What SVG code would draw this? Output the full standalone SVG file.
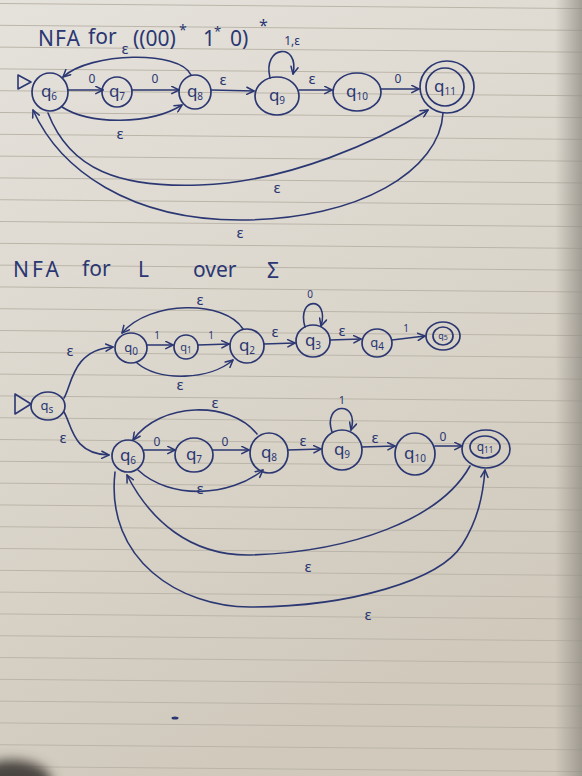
<svg xmlns="http://www.w3.org/2000/svg" width="582" height="776" viewBox="0 0 582 776">
<defs>
<style>
.ink{fill:none;stroke:#2b3772;stroke-width:1.6;stroke-linecap:round;stroke-linejoin:round}
.node{fill:none;stroke:#2b3772;stroke-width:1.7}
.start{fill:none;stroke:#2b3772;stroke-width:1.6;stroke-linejoin:round}
.t{font-family:"Noto Sans","DejaVu Sans",sans-serif;fill:#2b3772}
.c{text-anchor:middle}
.q{font-size:17px}
.qs{font-size:13px}
.sub{font-size:10px}
.e{font-size:15px}
.d{font-size:12px}
.title{font-size:21px}
</style>
<linearGradient id="paper" x1="0" y1="0" x2="0.35" y2="1">
<stop offset="0" stop-color="#e5e2dc"/>
<stop offset="0.5" stop-color="#dcd7cd"/>
<stop offset="1" stop-color="#d0c9bc"/>
</linearGradient>
<linearGradient id="edge" x1="0" y1="0" x2="1" y2="0">
<stop offset="0" stop-color="#8f8a82" stop-opacity="0"/>
<stop offset="1" stop-color="#8f8a82" stop-opacity="0.75"/>
</linearGradient>
<pattern id="ruled" width="582" height="21.8" patternUnits="userSpaceOnUse" patternTransform="translate(0,3) rotate(0.5)">
<line x1="0" y1="0.5" x2="600" y2="0.5" stroke="#bbb5a9" stroke-width="1"/>
</pattern>
<filter id="blur" x="-50%" y="-50%" width="200%" height="200%"><feGaussianBlur stdDeviation="6"/></filter>
<marker id="ah" viewBox="0 0 10 10" refX="9" refY="5" markerWidth="9" markerHeight="9" markerUnits="userSpaceOnUse" orient="auto">
<path d="M1,1 L9,5 L1,9" fill="none" stroke="#2b3772" stroke-width="1.7" stroke-linecap="round" stroke-linejoin="round"/>
</marker>
</defs>

<g id="paper-bg">
<rect width="582" height="776" fill="url(#paper)"/>
<rect width="582" height="776" fill="url(#ruled)"/>
<rect x="555" y="0" width="27" height="776" fill="url(#edge)"/>
<ellipse cx="12" cy="782" rx="40" ry="22" fill="#4a453f" filter="url(#blur)"/>
<ellipse cx="175" cy="718" rx="3.5" ry="1.5" fill="#2b3772"/>
</g>

<g id="title-top">
<text class="t title" x="38" y="46" letter-spacing="1">NFA</text>
<text class="t title" x="88" y="44">for</text>
<text class="t title" x="133" y="46">((00)</text>
<text class="t" x="179" y="35" font-size="14">*</text>
<text class="t title" x="203" y="46">1</text>
<text class="t" x="214" y="36" font-size="13">*</text>
<text class="t title" x="230" y="46">0)</text>
<text class="t" x="259" y="31" font-size="16">*</text>
</g>

<g id="top-connectors">
<path class="ink" d="M68,90 L103,90" marker-end="url(#ah)"/>
<path class="ink" d="M132,90 L179,90" marker-end="url(#ah)"/>
<path class="ink" d="M211,90 L254,91" marker-end="url(#ah)"/>
<path class="ink" d="M299,90 L332,90" marker-end="url(#ah)"/>
<path class="ink" d="M381,89 L419,89" marker-end="url(#ah)"/>
<path class="ink" d="M191,75 C180,50 90,52 63,77" marker-end="url(#ah)"/>
<path class="ink" d="M62,107 C90,125 150,125 182,105" marker-end="url(#ah)"/>
<path class="ink" d="M270,78 C262,45 300,42 293,74" marker-end="url(#ah)"/>
<path class="ink" d="M48,113 C70,170 120,188 200,185 C290,182 380,140 428,110" marker-end="url(#ah)"/>
<path class="ink" d="M443,113 C440,170 360,220 240,220 C130,220 60,170 33,110" marker-end="url(#ah)"/>
<text class="t c d" x="92" y="83">0</text>
<text class="t c d" x="155" y="83">0</text>
<text class="t c e" x="223" y="85">ε</text>
<text class="t c e" x="312" y="84">ε</text>
<text class="t c d" x="398" y="83">0</text>
<text class="t c d" x="292" y="45">1,ε</text>
<text class="t c e" x="125" y="54">ε</text>
<text class="t c e" x="120" y="139">ε</text>
<text class="t c e" x="277" y="193">ε</text>
<text class="t c e" x="240" y="238">ε</text>
</g>

<g id="top-q6"><polygon class="start" points="18,75 18,89 31,82"/><ellipse class="node" cx="50" cy="92" rx="18" ry="19"/><text class="t c q" x="49" y="97">q<tspan class="sub" dy="3">6</tspan></text></g>
<g id="top-q7"><ellipse class="node" cx="117" cy="92" rx="15" ry="15"/><text class="t c q" x="117" y="97">q<tspan class="sub" dy="3">7</tspan></text></g>
<g id="top-q8"><ellipse class="node" cx="195" cy="92" rx="16" ry="17"/><text class="t c q" x="195" y="97">q<tspan class="sub" dy="3">8</tspan></text></g>
<g id="top-q9"><ellipse class="node" cx="277" cy="96" rx="22" ry="19"/><text class="t c q" x="277" y="101">q<tspan class="sub" dy="3">9</tspan></text></g>
<g id="top-q10"><ellipse class="node" cx="357" cy="92" rx="24" ry="19"/><text class="t c q" x="357" y="97">q<tspan class="sub" dy="3">10</tspan></text></g>
<g id="top-q11"><ellipse class="node" cx="447" cy="87" rx="27" ry="26"/><ellipse class="node" cx="445" cy="87" rx="19" ry="19"/><text class="t c q" x="445" y="92">q<tspan class="sub" dy="3">11</tspan></text></g>

<g id="title-bottom">
<text class="t title" x="13" y="277" letter-spacing="3">NFA</text>
<text class="t title" x="82" y="276">for</text>
<text class="t title" x="138" y="277">L</text>
<text class="t title" x="193" y="277">over</text>
<text class="t title" x="267" y="278">Σ</text>
</g>

<g id="bottom-connectors">
<path class="ink" d="M64,398 C72,385 72,350 113,347" marker-end="url(#ah)"/>
<path class="ink" d="M64,412 C72,425 72,454 109,455" marker-end="url(#ah)"/>
<path class="ink" d="M147,345 L173,345" marker-end="url(#ah)"/>
<path class="ink" d="M198,345 L229,344" marker-end="url(#ah)"/>
<path class="ink" d="M243,329 C225,300 150,300 122,333" marker-end="url(#ah)"/>
<path class="ink" d="M137,363 C160,382 210,380 233,360" marker-end="url(#ah)"/>
<path class="ink" d="M264,344 L295,343" marker-end="url(#ah)"/>
<path class="ink" d="M305,327 C296,296 330,296 321,326" marker-end="url(#ah)"/>
<path class="ink" d="M330,340 L361,339" marker-end="url(#ah)"/>
<path class="ink" d="M392,340 L425,336" marker-end="url(#ah)"/>
<path class="ink" d="M144,450 L175,450" marker-end="url(#ah)"/>
<path class="ink" d="M213,450 L249,450" marker-end="url(#ah)"/>
<path class="ink" d="M288,450 L321,449" marker-end="url(#ah)"/>
<path class="ink" d="M257,434 C230,400 160,402 133,440" marker-end="url(#ah)"/>
<path class="ink" d="M138,470 C170,500 230,497 263,470" marker-end="url(#ah)"/>
<path class="ink" d="M332,432 C322,402 360,400 351,430" marker-end="url(#ah)"/>
<path class="ink" d="M362,447 L395,446" marker-end="url(#ah)"/>
<path class="ink" d="M435,446 L462,446" marker-end="url(#ah)"/>
<path class="ink" d="M470,466 C440,520 350,552 250,555 C190,556 150,520 127,475" marker-end="url(#ah)"/>
<path class="ink" d="M115,472 C105,560 180,607 250,607 C350,607 440,580 462,545 C478,520 483,495 485,470" marker-end="url(#ah)"/>
<text class="t c e" x="70" y="356">ε</text>
<text class="t c e" x="63" y="443">ε</text>
<text class="t c" x="157" y="339" font-size="10">1</text>
<text class="t c" x="211" y="339" font-size="10">1</text>
<text class="t c e" x="200" y="305">ε</text>
<text class="t c e" x="180" y="390">ε</text>
<text class="t c e" x="275" y="337">ε</text>
<text class="t c" x="310" y="298" font-size="10">0</text>
<text class="t c e" x="342" y="336">ε</text>
<text class="t c" x="406" y="332" font-size="10">1</text>
<text class="t c d" x="157" y="446">0</text>
<text class="t c d" x="225" y="446">0</text>
<text class="t c e" x="303" y="446">ε</text>
<text class="t c e" x="215" y="408">ε</text>
<text class="t c e" x="200" y="494">ε</text>
<text class="t c" x="342" y="404" font-size="11">1</text>
<text class="t c e" x="375" y="443">ε</text>
<text class="t c d" x="443" y="441">0</text>
<text class="t c e" x="308" y="572">ε</text>
<text class="t c e" x="368" y="620">ε</text>
</g>

<g id="bot-qs"><polygon class="start" points="15,394 15,414 31,404"/><ellipse class="node" cx="48" cy="406" rx="17" ry="14"/><text class="t c qs" x="47" y="410">q<tspan class="sub" dy="3">s</tspan></text></g>
<g id="bot-q0"><ellipse class="node" cx="131" cy="348" rx="16" ry="15"/><text class="t c qs" x="131" y="352">q<tspan class="sub" dy="3">0</tspan></text></g>
<g id="bot-q1"><ellipse class="node" cx="186" cy="347" rx="12" ry="12"/><text class="t c" x="186" y="351" font-size="11">q<tspan font-size="8" dy="2">1</tspan></text></g>
<g id="bot-q2"><ellipse class="node" cx="247" cy="346" rx="17" ry="17"/><text class="t c q" x="247" y="351">q<tspan class="sub" dy="3">2</tspan></text></g>
<g id="bot-q3"><ellipse class="node" cx="313" cy="341" rx="17" ry="16"/><text class="t c q" x="313" y="346">q<tspan class="sub" dy="3">3</tspan></text></g>
<g id="bot-q4"><ellipse class="node" cx="377" cy="343" rx="15" ry="14"/><text class="t c qs" x="377" y="347">q<tspan class="sub" dy="3">4</tspan></text></g>
<g id="bot-q5"><ellipse class="node" cx="443" cy="336" rx="17" ry="14"/><ellipse class="node" cx="443" cy="336" rx="10" ry="9"/><text class="t c" x="443" y="339" font-size="9">q<tspan font-size="7" dy="1">5</tspan></text></g>
<g id="bot-q6"><ellipse class="node" cx="128" cy="456" rx="16" ry="16"/><text class="t c q" x="128" y="461">q<tspan class="sub" dy="3">6</tspan></text></g>
<g id="bot-q7"><ellipse class="node" cx="194" cy="455" rx="19" ry="17"/><text class="t c q" x="194" y="460">q<tspan class="sub" dy="3">7</tspan></text></g>
<g id="bot-q8"><ellipse class="node" cx="269" cy="453" rx="19" ry="20"/><text class="t c q" x="269" y="458">q<tspan class="sub" dy="3">8</tspan></text></g>
<g id="bot-q9"><ellipse class="node" cx="342" cy="450" rx="20" ry="20"/><text class="t c q" x="342" y="455">q<tspan class="sub" dy="3">9</tspan></text></g>
<g id="bot-q10"><ellipse class="node" cx="415" cy="454" rx="20" ry="21"/><text class="t c q" x="415" y="459">q<tspan class="sub" dy="3">10</tspan></text></g>
<g id="bot-q11"><ellipse class="node" cx="486" cy="449" rx="24" ry="19"/><ellipse class="node" cx="485" cy="447" rx="15" ry="11"/><text class="t c" x="485" y="451" font-size="12">q<tspan font-size="8" dy="2">11</tspan></text></g>
</svg>
